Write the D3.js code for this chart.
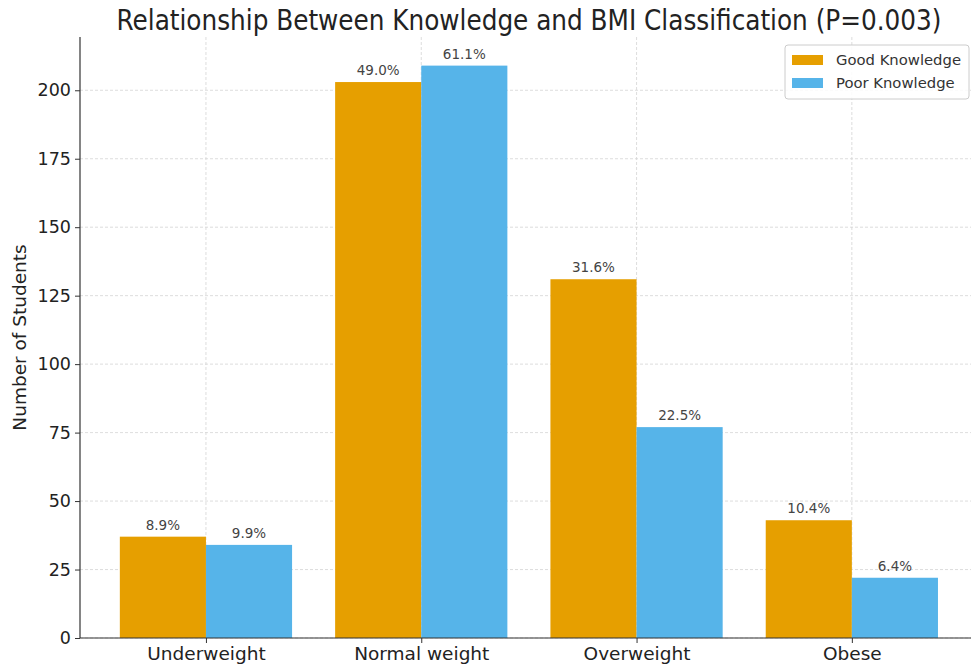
<!DOCTYPE html>
<html>
<head>
<meta charset="utf-8">
<script src="https://cdn.jsdelivr.net/npm/d3@7"></script>
<style>
  html, body { margin: 0; padding: 0; background: #fff; }
  svg { display: block; font-family: "DejaVu Sans", sans-serif; }
</style>
</head>
<body>
<svg id="chart" width="971" height="664"></svg>
<script>
// BMI categories and student counts per knowledge group
const categories = ["Underweight", "Normal weight", "Overweight", "Obese"];
const seriesNames = ["Good Knowledge", "Poor Knowledge"];
const goodKnowledge = [37, 203, 131, 43];
const poorKnowledge = [34, 209, 77, 22];
const goodPct = ["8.9%", "49.0%", "31.6%", "10.4%"];
const poorPct = ["9.9%", "61.1%", "22.5%", "6.4%"];
const yTicks = [0, 25, 50, 75, 100, 125, 150, 175, 200];
const colors = ["#E69F00", "#56B4E9"];

(function () {
const svg = d3.select("#chart");
const W = 971;
const plotLeft = 80, plotBottom = 638, plotTop = 37;

// Category index scale, with the default-style side margins
const x = d3.scaleLinear().domain([-0.585, 3.585]).range([plotLeft, plotLeft + 4.17 * 215.3]);
const y = d3.scaleLinear().domain([0, 219.45]).range([plotBottom, plotTop]);
const barW = x(0.4) - x(0);

// Grid
const grid = svg.append("g");
grid.selectAll("line.h").data(yTicks).join("line")
  .attr("x1", plotLeft).attr("x2", W)
  .attr("y1", d => y(d)).attr("y2", d => y(d))
  .attr("stroke", "#d4d4d4").attr("stroke-width", 0.8).attr("stroke-dasharray", "3,2");
grid.selectAll("line.v").data(categories).join("line")
  .attr("x1", (d, i) => x(i)).attr("x2", (d, i) => x(i))
  .attr("y1", plotTop).attr("y2", plotBottom)
  .attr("stroke", "#d4d4d4").attr("stroke-width", 0.8).attr("stroke-dasharray", "3,2");

// Bars
const series = [
  { name: seriesNames[0], values: goodKnowledge, pct: goodPct, off: -0.4, color: colors[0] },
  { name: seriesNames[1], values: poorKnowledge, pct: poorPct, off: 0, color: colors[1] }
];
series.forEach(s => {
  const g = svg.append("g");
  g.selectAll("rect").data(s.values).join("rect")
    .attr("x", (d, i) => x(i + s.off))
    .attr("y", d => y(d))
    .attr("width", barW)
    .attr("height", d => y(0) - y(d))
    .attr("fill", s.color);
  g.selectAll("text").data(s.values).join("text")
    .attr("x", (d, i) => x(i + s.off) + barW / 2)
    .attr("y", d => y(d) - 7)
    .attr("text-anchor", "middle")
    .attr("font-size", 13.5)
    .attr("fill", "#444")
    .text((d, i) => s.pct[i]);
});

// Axes
const yAxis = d3.axisLeft(y).tickValues(yTicks).tickSize(5).tickPadding(4);
const ya = svg.append("g").attr("transform", `translate(${plotLeft},0)`).call(yAxis);
ya.select(".domain").attr("stroke", "#333").attr("stroke-width", 1.2).attr("d", `M0,${plotTop}V${plotBottom}`);
ya.selectAll(".tick line").attr("stroke", "#333");
ya.selectAll(".tick text").attr("font-size", 17.5).attr("fill", "#222").attr("font-family", "DejaVu Sans");

const xAxis = d3.axisBottom(x).tickValues(d3.range(categories.length))
  .tickFormat(i => categories[i]).tickSize(5).tickPadding(4);
const xa = svg.append("g").attr("transform", `translate(0,${plotBottom})`).call(xAxis);
xa.select(".domain").attr("stroke", "#333").attr("stroke-width", 1.2).attr("d", `M${plotLeft},0H${W}`);
xa.selectAll(".tick line").attr("stroke", "#333");
xa.selectAll(".tick text").attr("font-size", 18.5).attr("fill", "#222").attr("font-family", "DejaVu Sans");

// Y axis label
svg.append("text")
  .attr("transform", `translate(26,${(plotTop + plotBottom) / 2}) rotate(-90)`)
  .attr("text-anchor", "middle")
  .attr("font-size", 18.5).attr("fill", "#222")
  .text("Number of Students");

// Title
svg.append("text")
  .attr("x", 529).attr("y", 30)
  .attr("text-anchor", "middle")
  .attr("font-size", 27.5).attr("fill", "#222")
  .attr("font-family", "DejaVu Sans Condensed, DejaVu Sans")
  .attr("font-stretch", "condensed")
  .text("Relationship Between Knowledge and BMI Classification (P=0.003)");

// Legend
const lg = svg.append("g").attr("transform", "translate(785,45)");
lg.append("rect").attr("width", 184).attr("height", 54).attr("rx", 3)
  .attr("fill", "#fff").attr("fill-opacity", 0.85).attr("stroke", "#ccc");
series.forEach((s, i) => {
  lg.append("rect").attr("x", 7).attr("y", 10 + i * 23).attr("width", 31).attr("height", 10).attr("fill", s.color);
  lg.append("text").attr("x", 51).attr("y", 20 + i * 23)
    .attr("font-size", 14.8).attr("fill", "#333").text(s.name);
});
})();
</script>
</body>
</html>
